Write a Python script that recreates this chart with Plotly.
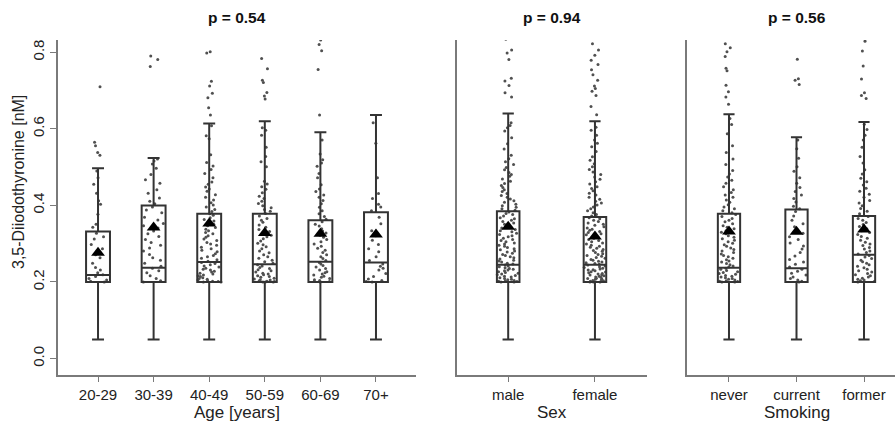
import plotly.graph_objects as go

# ---------------- data ----------------
age_cats = ["20-29", "30-39", "40-49", "50-59", "60-69", "70+"]
sex_cats = ["male", "female"]
smk_cats = ["never", "current", "former"]

age_q1 = [0.20, 0.20, 0.20, 0.20, 0.20, 0.20]
age_median = [0.218, 0.237, 0.252, 0.246, 0.253, 0.251]
age_q3 = [0.332, 0.400, 0.378, 0.378, 0.361, 0.382]
age_low = [0.05, 0.05, 0.05, 0.05, 0.05, 0.05]
age_high = [0.497, 0.524, 0.614, 0.620, 0.591, 0.636]
age_mean = [0.276, 0.342, 0.353, 0.328, 0.326, 0.324]

sex_q1 = [0.20, 0.20]
sex_median = [0.245, 0.245]
sex_q3 = [0.385, 0.370]
sex_low = [0.05, 0.05]
sex_high = [0.640, 0.620]
sex_mean = [0.344, 0.319]

smk_q1 = [0.20, 0.20, 0.20]
smk_median = [0.237, 0.236, 0.271]
smk_q3 = [0.378, 0.389, 0.372]
smk_low = [0.05, 0.05, 0.05]
smk_high = [0.638, 0.578, 0.618]
smk_mean = [0.332, 0.331, 0.337]

p_values = ["p = 0.54", "p = 0.94", "p = 0.56"]
x_titles = ["Age [years]", "Sex", "Smoking"]
y_title = "3,5-Diiodothyronine [nM]"

pts_20_29 = [0.71, 0.565, 0.556, 0.538, 0.531, 0.49, 0.472, 0.455, 0.432, 0.412, 0.403, 0.377,
             0.351, 0.343, 0.327, 0.318, 0.312, 0.298, 0.287, 0.271, 0.263, 0.249, 0.238, 0.231,
             0.224, 0.219, 0.214, 0.209, 0.205, 0.202, 0.2]
pts_30_39 = [0.79, 0.781, 0.763, 0.521, 0.516, 0.508, 0.497, 0.481, 0.467, 0.458, 0.441, 0.432,
             0.419, 0.411, 0.404, 0.396, 0.388, 0.381, 0.369, 0.362, 0.353, 0.347, 0.341, 0.333,
             0.326, 0.319, 0.311, 0.303, 0.296, 0.289, 0.281, 0.272, 0.263, 0.257, 0.249, 0.241,
             0.236, 0.229, 0.224, 0.216, 0.209, 0.203, 0.2]
pts_40_49 = [0.838, 0.801, 0.798, 0.724, 0.712, 0.693, 0.681, 0.655, 0.636, 0.608, 0.582, 0.574,
             0.532, 0.512, 0.503, 0.494, 0.483, 0.472, 0.461, 0.455, 0.448, 0.443, 0.437, 0.428,
             0.421, 0.414, 0.407, 0.401, 0.396, 0.389, 0.384, 0.378, 0.374, 0.368, 0.363, 0.359,
             0.354, 0.351, 0.347, 0.342, 0.338, 0.334, 0.329, 0.326, 0.321, 0.317, 0.312, 0.308,
             0.303, 0.299, 0.296, 0.291, 0.287, 0.283, 0.279, 0.274, 0.269, 0.266, 0.262, 0.258,
             0.254, 0.251, 0.248, 0.245, 0.242, 0.239, 0.236, 0.233, 0.231, 0.228, 0.226, 0.223,
             0.221, 0.218, 0.216, 0.214, 0.211, 0.209, 0.207, 0.205, 0.203, 0.202, 0.201, 0.2, 0.2]
pts_50_59 = [0.784, 0.757, 0.727, 0.721, 0.695, 0.686, 0.678, 0.603, 0.596, 0.583, 0.552, 0.528,
             0.514, 0.501, 0.463, 0.456, 0.449, 0.442, 0.433, 0.424, 0.418, 0.411, 0.405, 0.399,
             0.394, 0.389, 0.385, 0.379, 0.372, 0.366, 0.361, 0.356, 0.349, 0.343, 0.337, 0.332,
             0.327, 0.322, 0.318, 0.313, 0.307, 0.301, 0.297, 0.292, 0.287, 0.281, 0.276, 0.271,
             0.266, 0.262, 0.257, 0.253, 0.249, 0.245, 0.242, 0.238, 0.235, 0.232, 0.229, 0.226,
             0.223, 0.221, 0.219, 0.216, 0.214, 0.212, 0.21, 0.208, 0.206, 0.205, 0.203, 0.202,
             0.201, 0.2, 0.2, 0.2]
pts_60_69 = [0.832, 0.82, 0.804, 0.755, 0.636, 0.571, 0.534, 0.519, 0.511, 0.502, 0.483, 0.472,
             0.454, 0.443, 0.436, 0.427, 0.421, 0.413, 0.404, 0.395, 0.386, 0.378, 0.371, 0.364,
             0.357, 0.351, 0.346, 0.339, 0.333, 0.328, 0.322, 0.317, 0.311, 0.305, 0.299, 0.293,
             0.288, 0.283, 0.277, 0.271, 0.266, 0.261, 0.256, 0.251, 0.247, 0.243, 0.239, 0.235,
             0.231, 0.227, 0.224, 0.221, 0.218, 0.215, 0.212, 0.209, 0.206, 0.204, 0.202, 0.201, 0.2]
pts_70 = [0.837, 0.616, 0.562, 0.472, 0.431, 0.418, 0.403, 0.396, 0.386, 0.369, 0.352, 0.334,
          0.321, 0.309, 0.298, 0.287, 0.279, 0.266, 0.256, 0.247, 0.241, 0.236, 0.231, 0.222,
          0.214, 0.208, 0.204, 0.201, 0.2]

pts_male = [0.84, 0.834, 0.806, 0.798, 0.781, 0.732, 0.725, 0.713, 0.694, 0.683,
            0.616, 0.609, 0.603, 0.594, 0.577, 0.561, 0.547, 0.531, 0.522, 0.514, 0.507, 0.499,
            0.493, 0.486, 0.481, 0.476, 0.469, 0.463, 0.457, 0.452, 0.447, 0.441, 0.436, 0.431,
            0.426, 0.421, 0.417, 0.412, 0.408, 0.403, 0.399, 0.395, 0.391, 0.387,
            0.383, 0.379, 0.376, 0.372, 0.368, 0.365, 0.361, 0.358, 0.354, 0.351, 0.347, 0.344,
            0.341, 0.337, 0.334, 0.331, 0.327, 0.324, 0.321, 0.318, 0.314, 0.311, 0.308, 0.305,
            0.302, 0.299, 0.296, 0.293, 0.29, 0.287, 0.284, 0.281, 0.278, 0.275, 0.272, 0.269,
            0.266, 0.263, 0.26, 0.257, 0.255, 0.252, 0.249, 0.247, 0.244, 0.242, 0.24, 0.237,
            0.235, 0.233, 0.231, 0.229, 0.227, 0.225, 0.223, 0.221, 0.219, 0.217, 0.215, 0.213,
            0.211, 0.209, 0.207, 0.206, 0.204, 0.203, 0.202, 0.201, 0.2, 0.2]
pts_female = [0.822, 0.806, 0.792, 0.779, 0.768, 0.754, 0.741, 0.727, 0.712, 0.705, 0.698,
              0.687, 0.658, 0.637,
              0.604, 0.596, 0.583, 0.571, 0.562, 0.553, 0.541, 0.527, 0.518, 0.509, 0.501,
              0.494, 0.487, 0.481, 0.474, 0.468, 0.462, 0.456, 0.449, 0.444, 0.438, 0.432,
              0.427, 0.421, 0.416, 0.411, 0.406, 0.401, 0.396, 0.391, 0.386, 0.381, 0.376, 0.372,
              0.368, 0.365, 0.361, 0.358, 0.354, 0.351, 0.348, 0.344, 0.341, 0.338, 0.335, 0.332,
              0.329, 0.326, 0.323, 0.32, 0.317, 0.314, 0.311, 0.308, 0.305, 0.302, 0.299, 0.296,
              0.293, 0.291, 0.288, 0.285, 0.282, 0.28, 0.277, 0.274, 0.272, 0.269, 0.267, 0.264,
              0.262, 0.259, 0.257, 0.254, 0.252, 0.25, 0.248, 0.246, 0.244, 0.242, 0.24, 0.238,
              0.236, 0.234, 0.232, 0.231, 0.229, 0.227, 0.226, 0.224, 0.222, 0.221, 0.219, 0.218,
              0.216, 0.215, 0.213, 0.212, 0.21, 0.209, 0.208, 0.207, 0.205, 0.204, 0.203, 0.202,
              0.201, 0.2, 0.2, 0.2]

pts_never = [0.822, 0.812, 0.801, 0.789, 0.758, 0.752, 0.714, 0.697, 0.683, 0.664,
             0.627, 0.611, 0.587, 0.556, 0.538, 0.521, 0.507, 0.491, 0.482, 0.474, 0.466, 0.458,
             0.449, 0.441, 0.434, 0.427, 0.421, 0.414, 0.408, 0.402, 0.396, 0.391, 0.386, 0.381,
             0.376, 0.371, 0.366, 0.361, 0.357, 0.352, 0.347, 0.343, 0.339, 0.334, 0.33, 0.326,
             0.321, 0.317, 0.313, 0.309, 0.305, 0.301, 0.297, 0.293, 0.289, 0.285, 0.281, 0.277,
             0.273, 0.269, 0.266, 0.262, 0.258, 0.255, 0.252, 0.248, 0.245, 0.242, 0.239, 0.236,
             0.233, 0.23, 0.227, 0.225, 0.222, 0.22, 0.217, 0.215, 0.213, 0.211, 0.209, 0.207,
             0.205, 0.203, 0.202, 0.201, 0.2, 0.2]
pts_current = [0.839, 0.782, 0.731, 0.727, 0.716, 0.571, 0.548, 0.523, 0.501, 0.489, 0.472, 0.458,
               0.447, 0.436, 0.427, 0.418, 0.409, 0.398, 0.391, 0.384, 0.372, 0.361, 0.352, 0.344,
               0.336, 0.327, 0.318, 0.311, 0.302, 0.294, 0.286, 0.277, 0.268, 0.259, 0.252, 0.246,
               0.239, 0.233, 0.228, 0.223, 0.218, 0.213, 0.209, 0.205, 0.202, 0.2]
pts_former = [0.836, 0.829, 0.803, 0.764, 0.73, 0.694, 0.687, 0.679, 0.612, 0.598, 0.583, 0.571,
              0.552, 0.528, 0.511, 0.493, 0.482, 0.471, 0.462, 0.453, 0.445, 0.437, 0.429, 0.421,
              0.413, 0.406, 0.399, 0.392, 0.385, 0.378, 0.371, 0.366, 0.361, 0.355, 0.35, 0.345,
              0.339, 0.334, 0.329, 0.324, 0.319, 0.314, 0.309, 0.304, 0.299, 0.295, 0.29, 0.286,
              0.281, 0.277, 0.273, 0.269, 0.265, 0.261, 0.257, 0.253, 0.249, 0.245, 0.241, 0.237,
              0.233, 0.229, 0.226, 0.222, 0.219, 0.216, 0.213, 0.21, 0.207, 0.205, 0.203, 0.201, 0.2]

age_points = [pts_20_29, pts_30_39, pts_40_49, pts_50_59, pts_60_69, pts_70]
sex_points = [pts_male, pts_female]
smk_points = [pts_never, pts_current, pts_former]

# ---------------- figure ----------------
FONT = "Liberation Sans, Arial, sans-serif"
BOX_COL = "#333333"
AX_COL = "#7a7a7a"
PT_COL = "#505050"

fig = go.Figure()

panels = [
    (age_cats, age_q1, age_median, age_q3, age_low, age_high, age_mean, age_points, "x", "y", 0.43),
    (sex_cats, sex_q1, sex_median, sex_q3, sex_low, sex_high, sex_mean, sex_points, "x2", "y2", 0.26),
    (smk_cats, smk_q1, smk_median, smk_q3, smk_low, smk_high, smk_mean, smk_points, "x3", "y3", 0.33),
]

for cats, q1, med, q3, lo, hi, mn, pts, xa, ya, w in panels:
    px_, py_ = [], []
    for c, vals in zip(cats, pts):
        px_ += [c] * len(vals)
        py_ += vals
    # jittered sample points
    fig.add_trace(go.Box(
        x=px_, y=py_, xaxis=xa, yaxis=ya,
        boxpoints="all", jitter=1.0, pointpos=0, width=w,
        marker=dict(size=3, color=PT_COL),
        line=dict(width=0, color="rgba(0,0,0,0)"),
        fillcolor="rgba(0,0,0,0)", hoverinfo="skip", showlegend=False,
    ))
    # boxes from precomputed statistics
    fig.add_trace(go.Box(
        x=cats, q1=q1, median=med, q3=q3, lowerfence=lo, upperfence=hi,
        xaxis=xa, yaxis=ya, boxpoints=False, width=w, whiskerwidth=0.5,
        line=dict(color=BOX_COL, width=2), fillcolor="rgba(0,0,0,0)",
        showlegend=False,
    ))
    # means
    fig.add_trace(go.Scatter(
        x=cats, y=mn, xaxis=xa, yaxis=ya, mode="markers",
        marker=dict(symbol="triangle-up", size=12, color="black"),
        showlegend=False,
    ))

xcommon = dict(showline=True, linecolor=AX_COL, linewidth=1.5, ticks="outside",
               ticklen=5, tickcolor=AX_COL, showgrid=False, zeroline=False,
               tickfont=dict(size=15, color="#222"), type="category")
ycommon = dict(range=[-0.043, 0.832], showline=True, linecolor=AX_COL, linewidth=1.5,
               showgrid=False, zeroline=False)

W = 837.0
fig.update_layout(
    width=895, height=424,
    margin=dict(l=58, r=0, t=40, b=49),
    paper_bgcolor="white", plot_bgcolor="white",
    font=dict(family=FONT, color="#222"),
    boxmode="overlay",
    xaxis=dict(domain=[0, 358 / W], range=[-0.72, 5.72], **xcommon),
    xaxis2=dict(domain=[399 / W, 589 / W], range=[-0.59, 1.6], anchor="y2", **xcommon),
    xaxis3=dict(domain=[629 / W, 1], range=[-0.622, 2.459], anchor="y3", **xcommon),
    yaxis=dict(ticks="outside", ticklen=6, tickcolor=AX_COL, tickvals=[0, 0.2, 0.4, 0.6, 0.8],
               ticktext=["0.0", "0.2", "0.4", "0.6", "0.8"], tickangle=-90,
               tickfont=dict(size=15, color="#222"), **ycommon),
    yaxis2=dict(anchor="x2", showticklabels=False, ticks="", **ycommon),
    yaxis3=dict(anchor="x3", showticklabels=False, ticks="", **ycommon),
)

title_x = [(237 - 58) / W, (552 - 58) / W, (797 - 58) / W]
for tx, pv, xt in zip(title_x, p_values, x_titles):
    fig.add_annotation(x=tx, y=1 + 23 / 335, xref="paper", yref="paper", text="<b>%s</b>" % pv,
                       showarrow=False, xanchor="center", yanchor="middle",
                       font=dict(size=15.5, color="#111", family=FONT))
    fig.add_annotation(x=tx, y=-(412 - 375) / 335, xref="paper", yref="paper", text=xt,
                       showarrow=False, xanchor="center", yanchor="middle",
                       font=dict(size=17, color="#222", family=FONT))

fig.add_annotation(x=(18 - 58) / W, y=(375 - 182) / 335, xref="paper", yref="paper",
                   text=y_title, textangle=-90, showarrow=False, xanchor="center",
                   yanchor="middle", font=dict(size=16, color="#222", family=FONT))

fig.write_html("out.html")
